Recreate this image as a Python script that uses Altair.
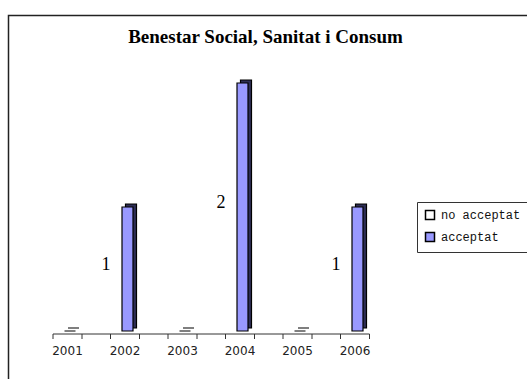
import altair as alt
import pandas as pd

# Yearly counts per outcome
years = ["2001", "2002", "2003", "2004", "2005", "2006"]
no_acceptat = [None, None, None, None, None, None]
acceptat = [0, 1, 0, 2, 0, 1]
series_names = ["no acceptat", "acceptat"]
series_colors = ["#FFFFFF", "#9999FF"]
title_text = "Benestar Social, Sanitat i Consum"

rows = []
for name, vals in zip(series_names, [no_acceptat, acceptat]):
    for y, v in zip(years, vals):
        if v is not None:
            rows.append({"year": y, "series": name, "value": v})
df = pd.DataFrame(rows)
years_df = pd.DataFrame({"year": years})
span_df = pd.DataFrame({"first": [years[0]], "last": [years[-1]]})

# Category slots: 57.5 px per year, first slot centred at x = 67.5
xscale = alt.Scale(domain=years, range=[38.75, 383.75], paddingInner=0, paddingOuter=0)
yscale = alt.Scale(domain=[0, 2], range=[331, 83], nice=False)

X = alt.X("year:N", scale=xscale, axis=None)
Y = alt.Y("value:Q", scale=yscale, axis=None)

frame = alt.Chart(alt.Data(values=[{}])).mark_rect(
    fillOpacity=0, stroke="#222222", strokeWidth=1.5
).encode(x=alt.value(8.5), x2=alt.value(800), y=alt.value(15.5), y2=alt.value(800))

title = alt.Chart(alt.Data(values=[{}])).mark_text(
    text=title_text, font="Liberation Serif", fontWeight="bold", fontSize=19,
    color="black", align="center", baseline="middle"
).encode(x=alt.value(265.5), y=alt.value(37))

# depth face of each bar, shifted back and up
depth = alt.Chart(df).mark_bar(
    size=11, xOffset=6, yOffset=-3, color="#2E2E55", stroke="black", strokeWidth=1.2
).encode(x=X, y=Y)

front = alt.Chart(df).mark_bar(
    size=11, xOffset=2.5, stroke="black", strokeWidth=1.2
).encode(
    x=X,
    y=Y,
    color=alt.Color(
        "series:N",
        scale=alt.Scale(domain=series_names, range=series_colors),
        legend=alt.Legend(
            orient="none", legendX=417, legendY=202, title=None,
            symbolType="square", symbolSize=81, symbolStrokeColor="black",
            symbolStrokeWidth=1.5, labelFont="Liberation Mono", labelFontSize=12,
            labelColor="#111111", strokeColor="#333333", fillColor="white",
            padding=7, rowPadding=6, labelOffset=5,
        ),
    ),
)

labels = alt.Chart(df).transform_filter(
    (alt.datum.series == "acceptat") & (alt.datum.value > 0)
).transform_calculate(mid="datum.value / 2").mark_text(
    font="Liberation Serif", fontSize=18, color="black", dx=-19, dy=-4,
    align="center", baseline="middle"
).encode(x=X, y=alt.Y("mid:Q", scale=yscale, axis=None), text="value:Q")

axis_line = alt.Chart(span_df).mark_rule(
    xOffset=-14.5, x2Offset=14.5, color="#333333", strokeWidth=1
).encode(x=alt.X("first:N", scale=xscale, axis=None), x2="last:N", y=alt.value(334))

ticks_left = alt.Chart(years_df).mark_rule(xOffset=-14.5, color="#333333").encode(
    x=X, y=alt.value(334), y2=alt.value(339))
ticks_right = alt.Chart(years_df).mark_rule(xOffset=14.5, color="#333333").encode(
    x=X, y=alt.value(334), y2=alt.value(339))

year_labels = alt.Chart(years_df).mark_text(
    font="DejaVu Sans", fontSize=12, color="#222222", baseline="middle", align="center"
).encode(x=X, y=alt.value(351), text="year:N")

chart = alt.layer(
    frame, title, depth, front, labels, axis_line, ticks_left, ticks_right, year_labels
).properties(
    width=527, height=379, padding=0, autosize=alt.AutoSizeParams(type="none")
).configure_view(strokeWidth=0)

chart.save("out.html", embed_options={"renderer": "svg", "actions": False})
